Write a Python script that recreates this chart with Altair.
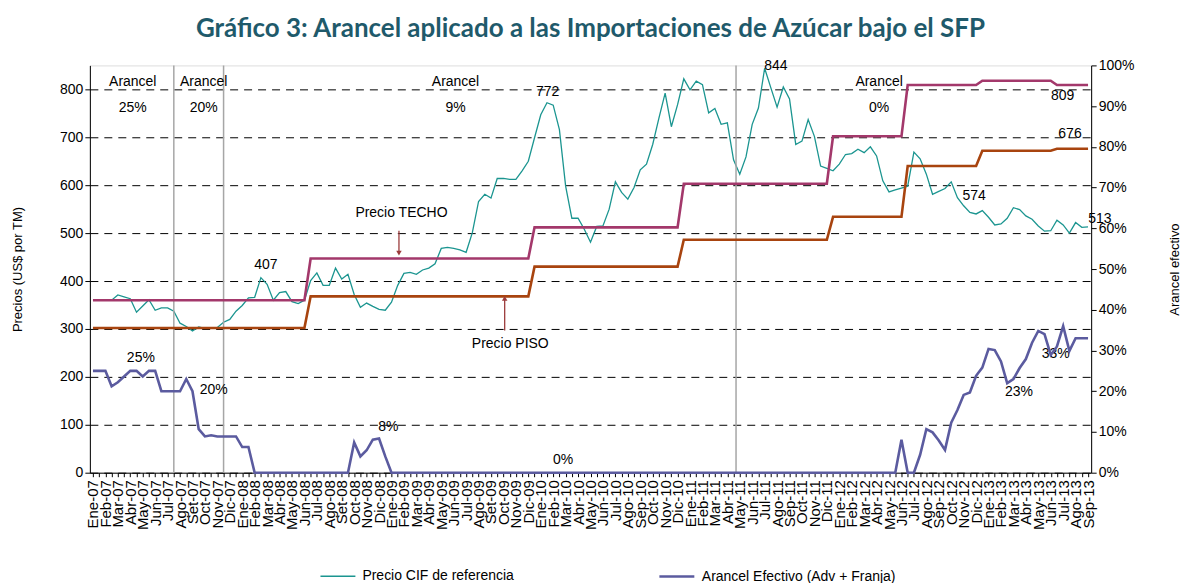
import json
import altair as alt
import pandas as pd

# ---------------- data ----------------
months = ["Ene-07","Feb-07","Mar-07","Abr-07","May-07","Jun-07","Jul-07","Ago-07","Set-07","Oct-07","Nov-07","Dic-07",
          "Ene-08","Feb-08","Mar-08","Abr-08","May-08","Jun-08","Jul-08","Ago-08","Set-08","Oct-08","Nov-08","Dic-08",
          "Ene-09","Feb-09","Mar-09","Abr-09","May-09","Jun-09","Jul-09","Ago-09","Set-09","Oct-09","Nov-09","Dic-09",
          "Ene-10","Feb-10","Mar-10","Abr-10","May-10","Jun-10","Jul-10","Ago-10","Sep-10","Oct-10","Nov-10","Dic-10",
          "Ene-11","Feb-11","Mar-11","Abr-11","May-11","Jun-11","Jul-11","Ago-11","Sep-11","Oct-11","Nov-11","Dic-11",
          "Ene-12","Feb-12","Mar-12","Abr-12","May-12","Jun-12","Jul-12","Ago-12","Sep-12","Oct-12","Nov-12","Dic-12",
          "Ene-13","Feb-13","Mar-13","Abr-13","May-13","Jun-13","Jul-13","Ago-13","Sep-13"]

# fortnightly (quincenal) reference CIF price, US$/TM
precio_cif = [360, 360, 360, 360, 371, 367, 363, 335, 348, 361, 339, 344, 344, 337, 312, 305, 296, 304, 301, 301,
              303, 314, 320, 337, 349, 365, 366, 407, 393, 360, 376, 378, 357, 353, 360, 401, 417, 391, 391, 427,
              404, 414, 372, 345, 354, 347, 341, 339, 356, 391, 416, 418, 414, 423, 427, 436, 468, 470, 468, 465,
              460, 501, 566, 581, 573, 614, 614, 612, 612, 630, 650, 699, 747, 772, 767, 716, 598, 531, 531, 508,
              481, 514, 515, 550, 607, 585, 571, 595, 632, 644, 685, 740, 792, 722, 768, 822, 799, 817, 810, 751,
              760, 727, 730, 653, 623, 659, 727, 761, 844, 803, 763, 805, 780, 685, 692, 737, 702, 640, 635, 630,
              644, 664, 666, 675, 668, 680, 661, 609, 586, 590, 594, 598, 669, 655, 623, 581, 587, 593, 607, 574,
              557, 543, 540, 547, 533, 517, 519, 531, 553, 549, 536, 529, 515, 504, 505, 527, 517, 500, 522, 512,
              513]

precio_techo = [360] * 35 + [447] * 36 + [512] * 24 + [603] * 24 + [702] * 12 + [809] * 12 + [818] * 12 + [809] * 6
precio_piso = [302] * 35 + [368] * 36 + [430] * 24 + [486] * 24 + [534] * 12 + [640] * 12 + [672] * 12 + [676] * 6

# arancel efectivo (%)
arancel = ([25, 25, 25, 21.2, 22.2, 23.6, 25, 25, 23.6, 25, 25, 20, 20, 20, 20, 23, 20, 10.7, 8.9, 9.2,
            8.9, 8.9, 8.9, 8.9, 6.3, 6.3] + [0] * 16 +
           [7.4, 4.0, 5.5, 8.1, 8.4, 4.0] + [0] * 82 +
           [8.1, 0, 0, 4.4, 10.7, 9.9, 7.9, 5.6, 12.3, 15.4, 19.1, 19.7, 23.8, 25.8, 30.4, 30.1, 27.3, 22.0,
            23.0, 25.7, 27.9, 31.9, 34.8, 34.0, 28.9, 31.0, 36.0, 29.9, 33.0, 33.0, 33.0])

serie_cif = "Precio CIF de referencia"
serie_ar = "Arancel Efectivo (Adv + Franja)"

# tariff-period dividers (fortnight index)
divisiones_q = [13, 21, 103.4]

# annotations (fortnight index, price-axis value)
ann_text = ["Arancel", "25%", "Arancel", "20%", "Arancel", "9%", "Arancel", "0%",
            "407", "772", "844", "809", "676", "574", "513", "Precio TECHO", "Precio PISO",
            "25%", "20%", "8%", "0%", "23%", "33%"]
ann_q = [6.4, 6.4, 17.8, 17.8, 58.3, 58.3, 126.4, 126.4,
         27.8, 73.1, 109.8, 155.9, 157.1, 141.7, 161.9, 49.6, 67.1,
         7.7, 19.4, 47.5, 75.6, 148.9, 154.8]
ann_v = [815, 761, 815, 761, 815, 761, 815, 761,
         434, 794, 849, 786, 707, 578, 530, 542, 268,
         239, 172, 96, 27, 168, 247]

# arrows pointing at TECHO and PISO lines
flecha_q = [49.2, 66.2]
flecha_desde = [505, 297]
flecha_hasta = [458, 364]
flecha_forma = ["triangle-down", "triangle-up"]

# ---------------- styling ----------------
TEAL = "#1B9590"
PINK = "#A3386B"
BROWN = "#A8440F"
PURPLE = "#5B5B9F"
ARROW = "#9B3B3B"
FONT = "Liberation Sans"

q = list(range(len(precio_cif)))
df_cif = pd.DataFrame({"q": q, "valor": precio_cif, "serie": serie_cif})
df_band = pd.DataFrame({"q": q, "techo": precio_techo, "piso": precio_piso})
df_ar = pd.DataFrame({"q": q, "valor": arancel, "serie": serie_ar})
df_div = pd.DataFrame({"q": divisiones_q})
df_ann = pd.DataFrame({"q": ann_q, "v": ann_v, "t": ann_text})
df_arr = pd.DataFrame({"q": flecha_q, "y1": flecha_desde, "y2": flecha_hasta, "forma": flecha_forma})

x_scale = alt.Scale(domain=[-0.5, len(q) - 0.5], nice=False, zero=False)
label_expr = "datum.value % 2 == 0 ? " + json.dumps(months) + "[datum.value / 2] : ''"
x_axis = alt.Axis(values=q, labelExpr=label_expr, labelAngle=270, labelFontSize=15, labelFont=FONT,
                  labelColor="black", labelOverlap=False, labelPadding=3, labelBound=False, labelFlush=False,
                  tickSize=4, tickColor="black", domainColor="black", title=None, grid=False)
x_enc = alt.X("q:Q", scale=x_scale, axis=x_axis)

y_price = alt.Scale(domain=[0, 850], nice=False, zero=True)
y_left_axis = alt.Axis(values=list(range(0, 801, 100)), grid=True, gridDash=[8, 6], gridColor="black",
                       gridWidth=1, tickSize=5, tickColor="black", domainColor="black",
                       labelFontSize=14, labelFont=FONT, labelColor="black",
                       title="Precios (US$ por TM)", titleFontSize=13, titleFont=FONT, titleFontWeight="normal",
                       titleColor="black", titleAngle=270, titleBaseline="middle", titleX=-72, titleY=204)


def y_price_enc(field):
    return alt.Y(field, scale=y_price, axis=y_left_axis)


color_scale = alt.Scale(domain=[serie_cif, serie_ar], range=[TEAL, PURPLE])
width_scale = alt.Scale(domain=[serie_cif, serie_ar], range=[1.3, 2.6])
legend = alt.Legend(orient="none", legendX=230, legendY=493, direction="horizontal", title=None,
                    symbolType="stroke", symbolSize=1225, labelFontSize=14, labelFont=FONT,
                    labelColor="black", columnPadding=140, labelOffset=6, labelLimit=400)

cif_line = alt.Chart(df_cif).mark_line().encode(
    x=x_enc,
    y=y_price_enc("valor:Q"),
    color=alt.Color("serie:N", scale=color_scale, legend=legend),
    strokeWidth=alt.StrokeWidth("serie:N", scale=width_scale, legend=legend),
)
techo_line = alt.Chart(df_band).mark_line(color=PINK, strokeWidth=2.6).encode(
    x=x_enc, y=y_price_enc("techo:Q"))
piso_line = alt.Chart(df_band).mark_line(color=BROWN, strokeWidth=2.6).encode(
    x=x_enc, y=y_price_enc("piso:Q"))
div_rules = alt.Chart(df_div).mark_rule(color="#A6A6A6", strokeWidth=1.5).encode(x=x_enc)
texts = alt.Chart(df_ann).mark_text(font=FONT, fontSize=14, color="black", align="center", baseline="middle").encode(
    x=x_enc, y=y_price_enc("v:Q"), text="t:N")
arrow_shaft = alt.Chart(df_arr).mark_rule(color=ARROW, strokeWidth=1.3).encode(
    x=x_enc, y=y_price_enc("y1:Q"), y2="y2:Q")
arrow_head = alt.Chart(df_arr).mark_point(color=ARROW, filled=True, size=30, opacity=1).encode(
    x=x_enc, y=y_price_enc("y2:Q"),
    shape=alt.Shape("forma:N", scale=None))

price_layer = alt.layer(cif_line, div_rules, techo_line, piso_line, arrow_shaft, arrow_head, texts)

ar_line = alt.Chart(df_ar).mark_line().encode(
    x=x_enc,
    y=alt.Y("valor:Q", scale=alt.Scale(domain=[0, 100], nice=False),
            axis=alt.Axis(orient="right", values=list(range(0, 101, 10)), labelExpr="datum.value + '%'",
                          grid=False, tickSize=5, tickColor="black", domainColor="black",
                          labelFontSize=14, labelFont=FONT, labelColor="black",
                          title="Arancel efectivo", titleFontSize=13, titleFont=FONT, titleFontWeight="normal",
                          titleColor="black", titleAngle=270, titleX=90, titleY=204)),
    color=alt.Color("serie:N", scale=color_scale, legend=legend),
    strokeWidth=alt.StrokeWidth("serie:N", scale=width_scale, legend=legend),
)

chart = alt.layer(price_layer, ar_line).resolve_scale(y="independent").properties(
    width=1003, height=408,
    title=alt.TitleParams("Gráfico 3: Arancel aplicado a las Importaciones de Azúcar bajo el SFP",
                          font="Lato", fontSize=26, fontWeight="bold", color="#1F5A6B",
                          anchor="middle", offset=16),
    autosize=alt.AutoSizeParams(type="none"),
    padding={"left": 82, "top": 57, "right": 90, "bottom": 110},
).configure_view(stroke=None).configure(font=FONT, background="white")

chart.save("out.html", embed_options={"renderer": "svg", "actions": False})
